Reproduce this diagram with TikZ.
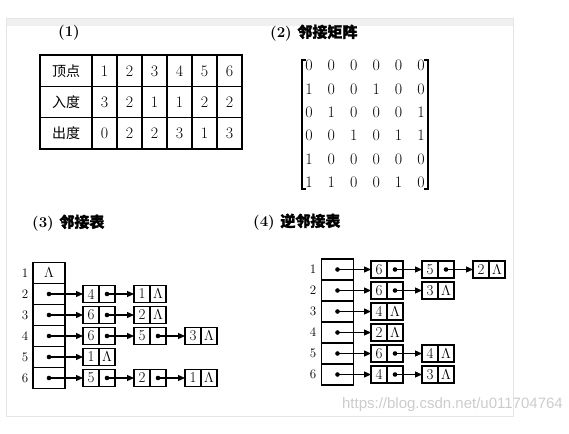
\documentclass[tikz,border=0pt]{standalone}
\usepackage{fontspec}
\newfontfamily\cjk{Noto Sans CJK SC}
\newfontfamily\cjkgras[FakeBold=1.5]{Noto Sans CJK SC}
\newfontfamily\sanslib{Liberation Sans}
\usetikzlibrary{arrows.meta,positioning}
\tikzset{
  case/.style={draw, line width=1.1pt, minimum width=25pt, minimum height=31pt,
    inner sep=0pt, outer sep=0pt, font=\fontsize{16}{18}\selectfont},
  entete/.style={case, minimum width=52pt, font=\fontsize{14}{16}\cjk},
  cellule/.style={draw, line width=1.2pt, minimum width=16pt, minimum height=17pt,
    inner sep=0pt, outer sep=0pt, font=\fontsize{15}{17}\selectfont},
  tete/.style={draw, line width=1.2pt, minimum width=32pt, minimum height=21pt,
    inner sep=0pt, outer sep=0pt},
  chiffre/.style={inner sep=0pt, font=\fontsize{16}{18}\selectfont},
  rang/.style={inner sep=0pt, font=\fontsize{13}{15}\selectfont},
  titre/.style={anchor=west, inner sep=0pt, font=\fontsize{15}{17}\selectfont\bfseries},
  fleche/.style={line width=1.2pt, -{Triangle[length=7pt,width=6pt]}},
  filigrane/.style={anchor=east, inner sep=0pt, text=gray!40,
    font=\fontsize{15}{17}\sanslib}
}
\begin{document}
\begin{tikzpicture}[x=1pt,y=-1pt]
    \useasboundingbox (0,0) rectangle (569,433);
    % Page scannee (fond)
    \fill[gray!12] (6,19) rectangle (513,26);
    \draw[gray!20, line width=1pt] (6,19) rectangle (513,416);

    % (1) Tableau des degres
    \node[titre] (t1) at (58,33) {(1)};
    \foreach \titre/\valeurs [count=\rg] in {顶点/{1,2,3,4,5,6}, 入度/{3,2,1,1,2,2}, 出度/{0,2,2,3,1,3}} {
        \node[entete] (c\rg-0) at (66,{71+31*(\rg-1)}) {\titre};
        \foreach \val [count=\col] in \valeurs {
            \node[case] (c\rg-\col) at ({104.5+25*(\col-1)},{71+31*(\rg-1)}) {\val};}
    }
    \draw[line width=2pt] (c1-0.north west) rectangle (c3-6.south east);

    % (2) Matrice d'adjacence
    \node[titre] (t2) at (270,33) {(2) {\cjkgras 邻接矩阵}};
    \foreach \ligne [count=\rg] in {{0,0,0,0,0,0},{1,0,0,1,0,0},{0,1,0,0,0,1},{0,0,1,0,1,1},{1,0,0,0,0,0},{1,1,0,0,1,0}} {
        \foreach \val [count=\col] in \ligne {
            \node[chiffre] (m\rg-\col) at ({309+22.4*(\col-1)},{65.5+23.4*(\rg-1)}) {\val};}
    }
    % Crochets
    \draw[line width=1.3pt] (306,60) -- (302,60) -- (302,189) -- (306,189);
    \draw[line width=1.3pt] (424,60) -- (428,60) -- (428,189) -- (424,189);

    % (3) Listes d'adjacence
    \node[titre] (t3) at (32,223) {(3) {\cjkgras 邻接表}};
    \foreach \lig in {1,...,6} {
        \node[rang] (na\lig) at (25,{273+21*(\lig-1)}) {\lig};
        \node[tete] (ta\lig) at (49,{273+21*(\lig-1)}) {};}
    \node[chiffre, font=\fontsize{14}{16}\selectfont] (vide) at (ta1) {$\Lambda$};
    \foreach \lig/\nb/\liste in {2/2/{4,1}, 3/2/{6,2}, 4/3/{6,5,3}, 5/1/{1}, 6/3/{5,2,1}} {
        \fill (ta\lig) circle (2.3pt);
        \foreach \val [count=\pos] in \liste {
            \node[cellule] (a\lig-\pos) at ({91+51*(\pos-1)},{273+21*(\lig-1)}) {\val};
            \ifnum\pos=\nb
                \node[cellule, right=0pt of a\lig-\pos] (ap\lig-\pos) {$\Lambda$};
            \else
                \node[cellule, right=0pt of a\lig-\pos] (ap\lig-\pos) {};
                \fill (ap\lig-\pos) circle (2.3pt);
            \fi
            \ifnum\pos=1
                \draw[fleche] (ta\lig.center) -- (a\lig-\pos.west);
            \else
                \pgfmathtruncatemacro\avant{\pos-1}
                \draw[fleche] (ap\lig-\avant.center) -- (a\lig-\pos.west);
            \fi
        }
    }

    % (4) Listes d'adjacence inverses
    \node[titre] (t4) at (253,222) {(4) {\cjkgras 逆邻接表}};
    \foreach \lig in {1,...,6} {
        \node[rang] (nb\lig) at (313,{269.5+21*(\lig-1)}) {\lig};
        \node[tete] (tb\lig) at (337.5,{269.5+21*(\lig-1)}) {};
        \fill (tb\lig) circle (2.3pt);}
    \foreach \lig/\nb/\liste in {1/3/{6,5,2}, 2/2/{6,3}, 3/1/{4}, 4/1/{2}, 5/2/{6,4}, 6/2/{4,3}} {
        \foreach \val [count=\pos] in \liste {
            \node[cellule] (b\lig-\pos) at ({379+51*(\pos-1)},{269.5+21*(\lig-1)}) {\val};
            \ifnum\pos=\nb
                \node[cellule, right=0pt of b\lig-\pos] (bp\lig-\pos) {$\Lambda$};
            \else
                \node[cellule, right=0pt of b\lig-\pos] (bp\lig-\pos) {};
                \fill (bp\lig-\pos) circle (2.3pt);
            \fi
            \ifnum\pos=1
                \draw[fleche] (tb\lig.center) -- (b\lig-\pos.west);
            \else
                \pgfmathtruncatemacro\avant{\pos-1}
                \draw[fleche] (bp\lig-\avant.center) -- (b\lig-\pos.west);
            \fi
        }
    }

    % Filigrane
    \node[filigrane] (url) at (563,405) {https://blog.csdn.net/u011704764};
\end{tikzpicture}
\end{document}
